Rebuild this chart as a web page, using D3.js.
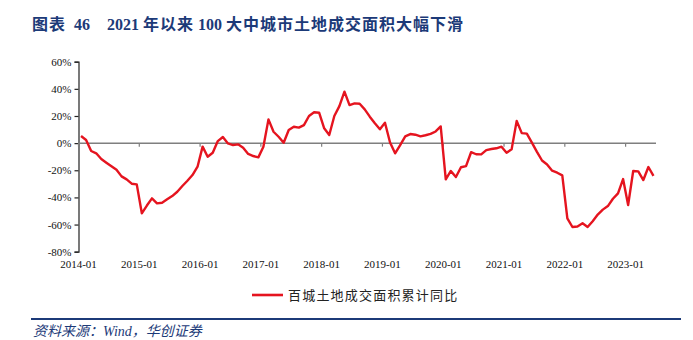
<!DOCTYPE html>
<html>
<head>
<meta charset="utf-8">
<script src="https://cdn.jsdelivr.net/npm/d3@7"></script>
<style>
  html, body { margin: 0; padding: 0; background: #fff; }
  svg { display: block; }
</style>
</head>
<body>
<svg id="chart" width="693" height="340"></svg>
<script>
// ---- data ----
const titleParts = ["图表", "46", "2021", "年以来", "100", "大中城市土地成交面积大幅下滑"];
const sourceText = "资料来源：Wind，华创证券";
const seriesName = "百城土地成交面积累计同比";

// monthly categories 2014-01 .. 2023-06
const startYear = 2014, endYear = 2023, endMonth = 6;
const categories = [];
for (let y = startYear; y <= endYear; y++) {
  for (let m = 1; m <= 12; m++) {
    if (y === endYear && m > endMonth) break;
    categories.push(y + "-" + String(m).padStart(2, "0"));
  }
}

const values = [
  5.2, 2.3, -5.8, -7.5, -11.7, -14.4, -17, -19.6, -24.5, -26.7, -29.9, -30.4,
  -51.7, -46, -40.7, -44.4, -43.9, -41.4, -39, -35.8, -31.6, -27.7, -23.5, -17.4,
  -2.6, -10, -7.1, 1.5, 4.5, -0.2, -1.4, -0.9, -3.4, -8, -9.5, -10.5,
  -2.6, 17.5, 8.4, 4.7, 0.3, 9.7, 12.1, 11.4, 13.3, 20, 22.7, 22.4,
  10.9, 6, 20, 27.3, 37.9, 28, 29.3, 29, 24.9, 19.5, 14.6, 10.2,
  15, 0.5, -7.5, -1.4, 5, 6.7, 6.2, 5, 5.8, 6.8, 8.6, 12.3,
  -26.7, -20.5, -25, -17.8, -16.9, -6.7, -8.2, -8.3, -5.1, -4.3, -3.8, -2.6,
  -7.1, -4.6, 16.4, 7.4, 7, 0.4, -6.4, -12.8, -15.7, -20.3, -21.8, -23.8,
  -55.4, -61.8, -61.4, -59.1, -61.8, -57.5, -52.6, -49, -46.4, -41, -37, -26.5,
  -45.6, -20.5, -20.8, -27.2, -17.6, -24.1
];

const yTicks = [-80, -60, -40, -20, 0, 20, 40, 60];
const xTickLabels = ["2014-01","2015-01","2016-01","2017-01","2018-01","2019-01","2020-01","2021-01","2022-01","2023-01"];

// ---- drawing ----
const svg = d3.select("#chart");
const navy = "#1c3a78";
const red = "#e5141f";
const serif = "'Liberation Serif', 'Times New Roman', 'Noto Sans CJK SC', serif";

const x = d3.scaleBand().domain(categories).range([78.5, 656]).paddingInner(0).paddingOuter(0);
const y = d3.scaleLinear().domain([-80, 60]).range([251.7, 61.7]);

// title
const titleX = [32, 74, 107, 143, 198, 226];
const title = svg.append("text")
  .attr("y", 30)
  .attr("font-family", serif)
  .attr("font-weight", "bold")
  .attr("font-size", 16)
  .attr("fill", navy);
title.selectAll("tspan")
  .data(titleParts)
  .join("tspan")
  .attr("x", (d, i) => titleX[i])
  .attr("letter-spacing", d => /^\d+$/.test(d) ? 0 : 1)
  .text(d => d);

// y axis
const yAxis = d3.axisLeft(y).tickValues(yTicks).tickSize(4).tickFormat(d => d + "%");
const gy = svg.append("g").attr("transform", "translate(78.5,0)").call(yAxis);
gy.select(".domain").attr("stroke", "#222").attr("stroke-width", 1.2);
gy.selectAll(".tick line").attr("stroke", "#222").attr("stroke-width", 1.2);
gy.selectAll(".tick text")
  .attr("font-family", serif).attr("font-size", 11).attr("fill", "#111").attr("x", -7);

// zero line with year ticks
const zeroY = y(0);
svg.append("line")
  .attr("x1", 78.5).attr("x2", 656)
  .attr("y1", zeroY).attr("y2", zeroY)
  .attr("stroke", "#7f7f7f").attr("stroke-width", 1.5);
svg.append("g").selectAll("line")
  .data(xTickLabels)
  .join("line")
  .attr("x1", d => x(d)).attr("x2", d => x(d))
  .attr("y1", zeroY).attr("y2", zeroY + 3.5)
  .attr("stroke", "#7f7f7f").attr("stroke-width", 1.2);

// x labels at bottom
svg.append("g").selectAll("text")
  .data(xTickLabels)
  .join("text")
  .attr("x", d => x(d))
  .attr("y", 268)
  .attr("text-anchor", "middle")
  .attr("font-family", serif).attr("font-size", 11).attr("fill", "#111")
  .text(d => d);

// line
const line = d3.line()
  .x((d, i) => x(categories[i]) + x.bandwidth() / 2)
  .y(d => y(d));
svg.append("path")
  .datum(values)
  .attr("d", line)
  .attr("fill", "none")
  .attr("stroke", red)
  .attr("stroke-width", 2.4)
  .attr("stroke-linejoin", "round");

// legend
svg.append("line")
  .attr("x1", 252).attr("x2", 283).attr("y1", 295).attr("y2", 295)
  .attr("stroke", red).attr("stroke-width", 2.6);
svg.append("text")
  .attr("x", 288).attr("y", 300)
  .attr("font-family", "'Noto Sans CJK SC', sans-serif")
  .attr("font-size", 13).attr("letter-spacing", 1.2)
  .attr("fill", "#222")
  .text(seriesName);

// bottom rule and source
svg.append("line")
  .attr("x1", 31).attr("x2", 681).attr("y1", 319).attr("y2", 319)
  .attr("stroke", navy).attr("stroke-width", 2);
svg.append("text")
  .attr("x", 33).attr("y", 336)
  .attr("font-family", serif)
  .attr("font-style", "italic")
  .attr("font-size", 14)
  .attr("fill", navy)
  .text(sourceText);
</script>
</body>
</html>
